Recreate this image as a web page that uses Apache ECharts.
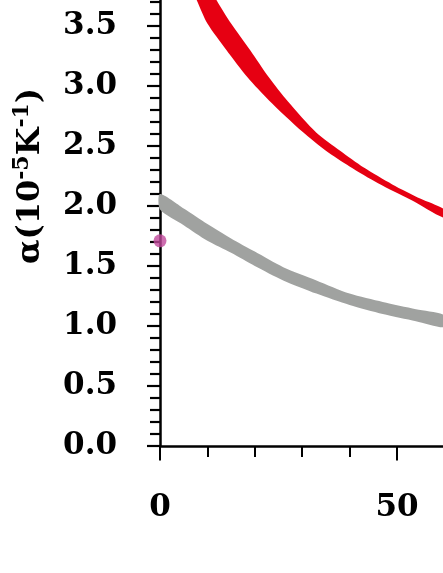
<!DOCTYPE html>
<html>
<head>
<meta charset="utf-8">
<script src="https://cdn.jsdelivr.net/npm/echarts@6/dist/echarts.min.js"></script>
<style>
html,body{margin:0;padding:0;background:#fff;}
#chart{width:443px;height:573px;}
</style>
</head>
<body>
<div id="chart"></div>
<script>
// ---- data ----
var redUpperX = [11, 12, 15, 19, 23, 27, 33, 38, 43, 49, 55, 60];
var redUpperY = [3.79, 3.71, 3.52, 3.30, 3.07, 2.87, 2.61, 2.46, 2.32, 2.18, 2.06, 1.97];
var redLowerX = [7, 7.7, 10, 14, 18.5, 23, 30, 35, 40, 46, 53, 60];
var redLowerY = [3.79, 3.72, 3.52, 3.30, 3.07, 2.88, 2.62, 2.46, 2.33, 2.19, 2.05, 1.90];

var grayUpperX = [0, 5, 10, 15, 20, 26, 33, 40, 47, 54, 60];
var grayUpperY = [2.10, 1.98, 1.85, 1.73, 1.62, 1.49, 1.38, 1.27, 1.20, 1.14, 1.09];
var grayLowerX = [0, 5, 10, 15, 20, 26, 33, 40, 47, 54, 60];
var grayLowerY = [1.97, 1.84, 1.71, 1.61, 1.50, 1.38, 1.27, 1.175, 1.10, 1.04, 0.99];

var pointX = [0];
var pointY = [1.71];

var xTickLabels = ['0', '50'];

var FONT = 'DejaVu Serif';

function bandSeries(ux, uy, lx, ly, color) {
  return {
    type: 'custom',
    xAxisIndex: 0, yAxisIndex: 0,
    clip: false,
    silent: true,
    z: 2,
    data: [[0, 0]],
    renderItem: function (params, api) {
      var pts = [];
      for (var i = 0; i < ux.length; i++) pts.push(api.coord([ux[i], uy[i]]));
      for (var j = lx.length - 1; j >= 0; j--) pts.push(api.coord([lx[j], ly[j]]));
      return {
        type: 'polygon',
        shape: { points: pts, smooth: 0.25 },
        style: { fill: color, stroke: null }
      };
    }
  };
}

var chart = echarts.init(document.getElementById('chart'), null, { renderer: 'canvas' });
var labelStyle = { fontFamily: FONT, fontWeight: 'bold', fontSize: 31, color: '#000' };

chart.setOption({
  animation: false,
  backgroundColor: '#fff',
  grid: { left: 160, right: -1.4, top: -94, bottom: 127, containLabel: false, outerBoundsMode: 'none' },
  xAxis: [{
    type: 'value', min: 0, max: 60, interval: 10,
    axisLine: { show: true, onZero: false, lineStyle: { color: '#000', width: 2.5 } },
    axisTick: { show: true, length: 11, lineStyle: { color: '#000', width: 2 } },
    axisLabel: { show: false },
    splitLine: { show: false }
  }, {
    type: 'value', min: 0, max: 60, interval: 50, position: 'bottom',
    axisLine: { show: false },
    axisTick: { show: true, length: 14.5, lineStyle: { color: '#000', width: 2 } },
    axisLabel: Object.assign({
      margin: 46, showMaxLabel: false,
      formatter: function (v) { return xTickLabels.indexOf(String(v)) >= 0 ? String(v) : ''; }
    }, labelStyle),
    splitLine: { show: false }
  }],
  yAxis: {
    type: 'value', min: 0, max: 4.5, interval: 0.5,
    name: '{n|α(10}{s|-5}{n|K}{s|-1}{n|)}',
    nameLocation: 'middle', nameRotate: 90, nameGap: 109,
    nameTextStyle: {
      rich: {
        n: { fontFamily: FONT, fontWeight: 'bold', fontSize: 32, lineHeight: 40, color: '#000' },
        s: { fontFamily: FONT, fontWeight: 'bold', fontSize: 22, lineHeight: 40, verticalAlign: 'top', color: '#000' }
      }
    },
    axisLine: { show: true, onZero: false, lineStyle: { color: '#000', width: 2.5 } },
    axisTick: { show: true, length: 13, lineStyle: { color: '#000', width: 2.2 } },
    minorTick: { show: true, splitNumber: 5, length: 10, lineStyle: { color: '#000', width: 2.2 } },
    axisLabel: Object.assign({ margin: 43, formatter: function (v) { return v.toFixed(1); } }, labelStyle),
    splitLine: { show: false },
    minorSplitLine: { show: false }
  },
  series: [
    bandSeries(grayUpperX, grayUpperY, grayLowerX, grayLowerY, '#a0a2a0'),
    bandSeries(redUpperX, redUpperY, redLowerX, redLowerY, '#e60012'),
    {
      type: 'scatter', xAxisIndex: 0, yAxisIndex: 0, clip: false, z: 5,
      symbol: 'circle', symbolSize: 13,
      itemStyle: { color: '#c0489b' },
      data: pointX.map(function (x, i) { return [x, pointY[i]]; })
    }
  ]
});
</script>
</body>
</html>
